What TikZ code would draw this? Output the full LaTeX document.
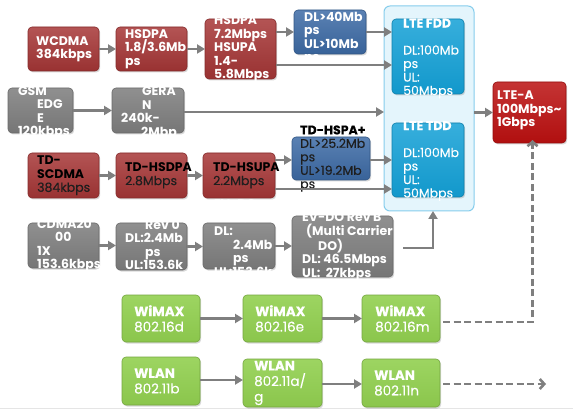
\documentclass[tikz,border=0pt]{standalone}
\usepackage{fontspec}
\setmainfont{Poppins}
\newfontfamily\medfont[FakeBold=0.25]{Poppins}
\usetikzlibrary{arrows.meta,shadows,calc}
\definecolor{cred}{HTML}{A63636}
\definecolor{cgray}{HTML}{7C7C7C}
\definecolor{cblue}{HTML}{3D6BA6}
\definecolor{ccyan}{HTML}{13A0D6}
\definecolor{couter}{HTML}{E4F5FC}
\definecolor{couterb}{HTML}{86CDEC}
\definecolor{cltea}{HTML}{BA1010}
\definecolor{cgreen}{HTML}{92D050}
\definecolor{carr}{HTML}{7F7F7F}
\definecolor{cdark}{HTML}{1E1E1E}
\begin{document}
\begin{tikzpicture}[x=1pt,y=-1pt,
  base/.style={rounded corners=4pt, inner sep=0pt, outer sep=0pt, line width=0.6pt,
    drop shadow={opacity=0.3,shadow xshift=1.2pt,shadow yshift=-1.5pt}},
  redbox/.style={base, draw=cred!80!black, top color=cred!85!white, bottom color=cred!92!black},
  graybox/.style={base, draw=cgray!85!black, top color=cgray!85!white, bottom color=cgray!95!black},
  bluebox/.style={base, draw=cblue!80!black, top color=cblue!85!white, bottom color=cblue!92!black},
  cyanbox/.style={base, draw=ccyan!80!black, top color=ccyan!85!white, bottom color=ccyan!95!black},
  ltebox/.style={base, draw=cltea!80!black, top color=cltea!85!white, bottom color=cltea!95!black},
  greenbox/.style={base, draw=cgreen!80!black, top color=cgreen!90!white, bottom color=cgreen!95!black},
  outerbox/.style={rounded corners=6pt, inner sep=0pt, outer sep=0pt, draw=couterb, line width=1pt, fill=couter},
  txt/.style={inner sep=0pt, align=left, anchor=west, text=white,
    font=\fontsize{12.5}{13.5}\selectfont\bfseries},
  rtxt/.style={txt, font=\fontsize{12.5}{13.5}\selectfont\medfont},
  gtxt/.style={txt, font=\fontsize{13.5}{15.5}\selectfont\medfont},
  arr/.style={draw=carr, line width=2.6pt, -{Triangle[length=8pt,width=9pt]}},
  darr/.style={draw=carr, line width=2.6pt, dash pattern=on 7pt off 3.5pt,
    -{Straight Barb[length=4.5pt,width=10pt,line width=2.6pt]}}
]
\useasboundingbox[fill=white] (0,0) rectangle (573,414);
\draw[draw=black!10, line width=0.8pt] (0,408.5) -- (573,408.5);

% LTE container
\node[outerbox, minimum width=90pt, minimum height=205pt] (lteouter) at (429,108.5) {};

% Row 1
\node[redbox, minimum width=71pt, minimum height=44pt] (wcdma) at (63.5,49) {};
\node[redbox, minimum width=71pt, minimum height=44pt] (hsdpa) at (151.5,49) {};
\node[redbox, minimum width=71pt, minimum height=60pt] (hsdpa72) at (240.5,49) {};
\node[bluebox, minimum width=72pt, minimum height=44pt] (hspa) at (330,32) {};
\node[cyanbox, minimum width=72pt, minimum height=75pt] (ltefdd) at (428,56.5) {};
\node[cyanbox, minimum width=72pt, minimum height=74pt] (ltetdd) at (428,160) {};
\node[ltebox, minimum width=73pt, minimum height=61pt] (ltea) at (529.5,112.5) {};
% Row 2
\node[graybox, minimum width=65pt, minimum height=45pt] (gsmedge) at (40.5,110.5) {};
\node[graybox, minimum width=72pt, minimum height=45pt] (geran) at (148,110.5) {};
% Row 3
\node[redbox, minimum width=71pt, minimum height=45pt] (tdscdma) at (63.5,175.5) {};
\node[redbox, minimum width=71pt, minimum height=45pt] (tdhsdpa) at (151.5,175.5) {};
\node[redbox, minimum width=72pt, minimum height=45pt] (tdhsupa) at (239,175.5) {};
\node[bluebox, minimum width=78pt, minimum height=43pt] (tdhspa) at (331,158.5) {};
% Row 4
\node[graybox, minimum width=71pt, minimum height=45pt] (cdma) at (63.5,245.5) {};
\node[graybox, minimum width=71pt, minimum height=47pt] (rev0) at (151.5,246.5) {};
\node[graybox, minimum width=72pt, minimum height=46pt] (revA) at (239,246) {};
\node[graybox, minimum width=101pt, minimum height=61pt] (revB) at (342.5,246.5) {};
% Row 5, 6
\node[greenbox, minimum width=78pt, minimum height=47pt] (wimaxd) at (161,318.5) {};
\node[greenbox, minimum width=79pt, minimum height=47pt] (wimaxe) at (282.5,318.5) {};
\node[greenbox, minimum width=78pt, minimum height=47pt] (wimaxm) at (401,318.5) {};
\node[greenbox, minimum width=78pt, minimum height=48pt] (wlanb) at (161,381) {};
\node[greenbox, minimum width=79pt, minimum height=48pt] (wlanag) at (282.5,383) {};
\node[greenbox, minimum width=78pt, minimum height=48pt] (wlann) at (401,383) {};

% Texts
\node[txt] (t-wcdma) at ([xshift=8pt]wcdma.west) {WCDMA\\384kbps};
\node[txt] (t-hsdpa) at ([xshift=9pt]hsdpa.west) {HSDPA\\1.8/3.6Mb\\ps};
\node[txt] (t-hsdpa72) at ([xshift=9pt]hsdpa72.west) {HSDPA\\7.2Mbps\\HSUPA\\1.4-\\5.8Mbps};
\node[txt] (t-hspa) at ([xshift=10pt]hspa.west) {HSPA+\\DL>40Mb\\ps\\UL>10Mb\\ps};
\node[rtxt] (t-ltefdd) at ([xshift=11pt,yshift=-2pt]ltefdd.west) {{\bfseries LTE FDD}\\\mbox{}\\DL:100Mb\\ps\\UL:\\50Mbps};
\node[rtxt] (t-ltetdd) at ([xshift=11pt,yshift=-1pt]ltetdd.west) {{\bfseries LTE TDD}\\\mbox{}\\DL:100Mb\\ps\\UL:\\50Mbps};
\node[txt] (t-ltea) at ([xshift=4pt,yshift=2pt]ltea.west) {LTE-A\\100Mbps\textasciitilde\\1Gbps};
\node[txt] (t-gsm) at ([xshift=10pt,yshift=-2pt]gsmedge.west) {GSM\\\hspace*{19pt}EDG\\\hspace*{19pt}E\\120kbps};
\node[txt] (t-geran) at ([xshift=9pt,yshift=-1pt]geran.west) {\hspace*{1pt}GSM\\\hspace*{21pt}GERA\\\hspace*{21pt}N\\240k-\\\hspace*{20pt}2Mbp\\\hspace*{21pt}s};
\node[txt, text=black] (t-tdscdma) at ([xshift=9pt]tdscdma.west) {TD-\\SCDMA\\\color{cdark}\medfont\mdseries 384kbps};
\node[txt, text=black] (t-tdhsdpa) at ([xshift=9pt]tdhsdpa.west) {TD-HSDPA\\\color{cdark}\medfont\mdseries 2.8Mbps};
\node[txt, text=black] (t-tdhsupa) at ([xshift=10pt]tdhsupa.west) {TD-HSUPA\\\color{cdark}\medfont\mdseries 2.2Mbps};
\node[rtxt, text=cdark] (t-tdhspa) at ([xshift=8pt]tdhspa.west) {{\bfseries\color{black}TD-HSPA+}\\DL>25.2Mb\\ps\\UL>19.2Mb\\ps};
\node[txt] (t-cdma) at ([xshift=9pt]cdma.west) {CDMA20\\\hspace*{18pt}00\\1X\\153.6kbps};
\node[txt] (t-rev0) at ([xshift=9pt]rev0.west) {EV-DO\\\hspace*{20pt}Rev 0\\DL:2.4Mb\\\hspace*{20pt}ps\\UL:153.6k\\\hspace*{20pt}bps};
\node[txt] (t-revA) at ([xshift=11pt,yshift=-0.5pt]revA.west) {EV-DO\\\hspace*{19pt}Rev A\\DL:\\\hspace*{19pt}2.4Mb\\\hspace*{19pt}ps\\UL:153.6k\\\hspace*{19pt}bps};
\node[txt] (t-revB) at ([xshift=10pt]revB.west) {EV-DO Rev B\\\hspace*{4pt}(Multi Carrier\\\hspace*{16pt}DO)\\DL: 46.5Mbps\\UL:\ \ 27kbps};
\node[gtxt] (t-wimaxd) at ([xshift=12pt]wimaxd.west) {{\bfseries WiMAX}\\802.16d};
\node[gtxt] (t-wimaxe) at ([xshift=12pt]wimaxe.west) {{\bfseries WiMAX}\\802.16e};
\node[gtxt] (t-wimaxm) at ([xshift=13pt]wimaxm.west) {{\bfseries WiMAX}\\802.16m};
\node[gtxt] (t-wlanb) at ([xshift=12pt]wlanb.west) {{\bfseries WLAN}\\802.11b};
\node[gtxt] (t-wlanag) at ([xshift=11pt]wlanag.west) {{\bfseries WLAN}\\802.11a/\\g};
\node[gtxt] (t-wlann) at ([xshift=12pt]wlann.west) {{\bfseries WLAN}\\802.11n};

% Connectors
\draw[arr] (wcdma.east) -- (wcdma.east -| hsdpa.west);
\draw[arr] (hsdpa.east) -- (hsdpa.east -| hsdpa72.west);
\draw[arr] (hsdpa72.east |- hspa.west) -- (hspa.west);
\draw[arr] (hspa.east) -- (hspa.east -| ltefdd.west);
\draw[arr] ([yshift=-16pt]hsdpa72.east) -- ([yshift=-16pt]hsdpa72.east -| ltefdd.west);
\draw[arr] (gsmedge.east) -- (gsmedge.east -| geran.west);
\draw[arr] ([yshift=-1.5pt]geran.east) -- ([yshift=-1.5pt]geran.east -| lteouter.west);
\draw[arr] (tdscdma.east) -- (tdscdma.east -| tdhsdpa.west);
\draw[arr] (tdhsdpa.east) -- (tdhsdpa.east -| tdhsupa.west);
\draw[arr] ([yshift=15.5pt]tdhsupa.east) -- ([yshift=15.5pt]tdhsupa.east -| tdhspa.west);
\draw[arr] ([yshift=-1.5pt]tdhspa.east) -- ([yshift=-1.5pt]tdhspa.east -| ltetdd.west);
\draw[arr] ([yshift=-13.5pt]tdhsupa.east) -- ([yshift=-13.5pt]tdhsupa.east -| ltetdd.west);
\draw[arr] (cdma.east) -- (cdma.east -| rev0.west);
\draw[arr] (rev0.east) -- (rev0.east -| revA.west);
\draw[arr] (revA.east) -- (revA.east -| revB.west);
\coordinate (revBout) at ([xshift=10pt,yshift=-1.5pt]revB.east);
\draw[arr] (revBout) -| ([xshift=4pt]lteouter.south);
\draw[arr] (lteouter.east |- ltea.west) -- (ltea.west);
\draw[arr] (wimaxd.east) -- (wimaxd.east -| wimaxe.west);
\draw[arr] (wimaxe.east) -- (wimaxe.east -| wimaxm.west);
\draw[arr] ([yshift=1pt]wlanb.east) -- ([yshift=1pt]wlanb.east -| wlanag.west);
\draw[arr] ([yshift=-1pt]wlanag.east) -- ([yshift=-1pt]wlanag.east -| wlann.west);
\draw[darr] ([xshift=3pt,yshift=-3.5pt]wimaxm.east) -| ([xshift=3pt,yshift=3pt]ltea.south);
\coordinate (wlanend) at (546,384);
\draw[darr] ([xshift=3pt,yshift=-1pt]wlann.east) -- (wlanend);
\end{tikzpicture}
\end{document}
